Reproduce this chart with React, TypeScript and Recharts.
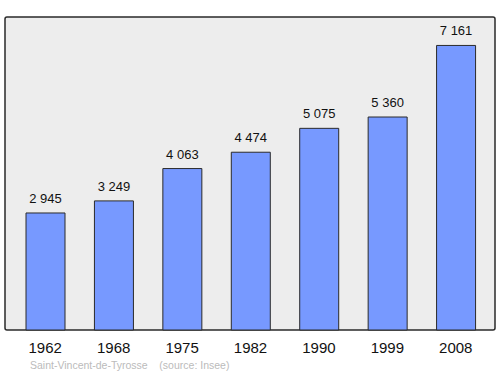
import { BarChart, Bar, XAxis, YAxis, LabelList, usePlotArea } from "recharts";

const years = ["1962", "1968", "1975", "1982", "1990", "1999", "2008"];
const population = [2945, 3249, 4063, 4474, 5075, 5360, 7161];

const data = years.map((year, i) => ({ year, population: population[i] }));

const FONT = "'Liberation Sans', Arial, sans-serif";

const fmt = (v: number) => String(v).replace(/\B(?=(\d{3})+(?!\d))/g, " ");

function PlotFrame() {
  const area = usePlotArea();
  if (!area) return null;
  return (
    <rect
      x={area.x}
      y={area.y}
      width={area.width}
      height={area.height}
      rx={2}
      fill="none"
      stroke="#2a2a2a"
      strokeWidth={1.5}
    />
  );
}

function PlotBackground() {
  const area = usePlotArea();
  if (!area) return null;
  return (
    <rect x={area.x} y={area.y} width={area.width} height={area.height} fill="#ededed" />
  );
}

const ValueLabel = (props: any) => {
  const { x, y, width, value } = props;
  return (
    <text
      x={Number(x) + Number(width) / 2}
      y={Number(y) - 10}
      textAnchor="middle"
      fontSize={13}
      fill="#111"
      fontFamily={FONT}
    >
      {fmt(Number(value))}
    </text>
  );
};

export default function App() {
  return (
    <div
      style={{
        position: "absolute",
        left: 0,
        top: 0,
        width: 500,
        height: 374,
        background: "#fff",
        fontFamily: FONT,
      }}
    >
      <BarChart
        width={500}
        height={374}
        data={data}
        margin={{ top: 17, right: 5, left: 5, bottom: 0 }}
      >
        <PlotBackground />
        <XAxis
          dataKey="year"
          height={44}
          axisLine={false}
          tickLine={false}
          padding={{ left: 6, right: 5 }}
          tick={{ fontSize: 15, fill: "#111", fontFamily: FONT }}
          dy={4}
          interval={0}
        />
        <YAxis hide domain={[0, 7877]} />
        <Bar
          dataKey="population"
          barSize={39}
          fill="#7799ff"
          stroke="#2a2a2a"
          strokeWidth={1}
          isAnimationActive={false}
        >
          <LabelList dataKey="population" content={ValueLabel} />
        </Bar>
        <PlotFrame />
      </BarChart>
      <div
        style={{
          position: "absolute",
          left: 30,
          top: 359,
          fontSize: 10.5,
          color: "#bbbbbb",
          whiteSpace: "pre",
        }}
      >
        {"Saint-Vincent-de-Tyrosse    (source: Insee)"}
      </div>
    </div>
  );
}
